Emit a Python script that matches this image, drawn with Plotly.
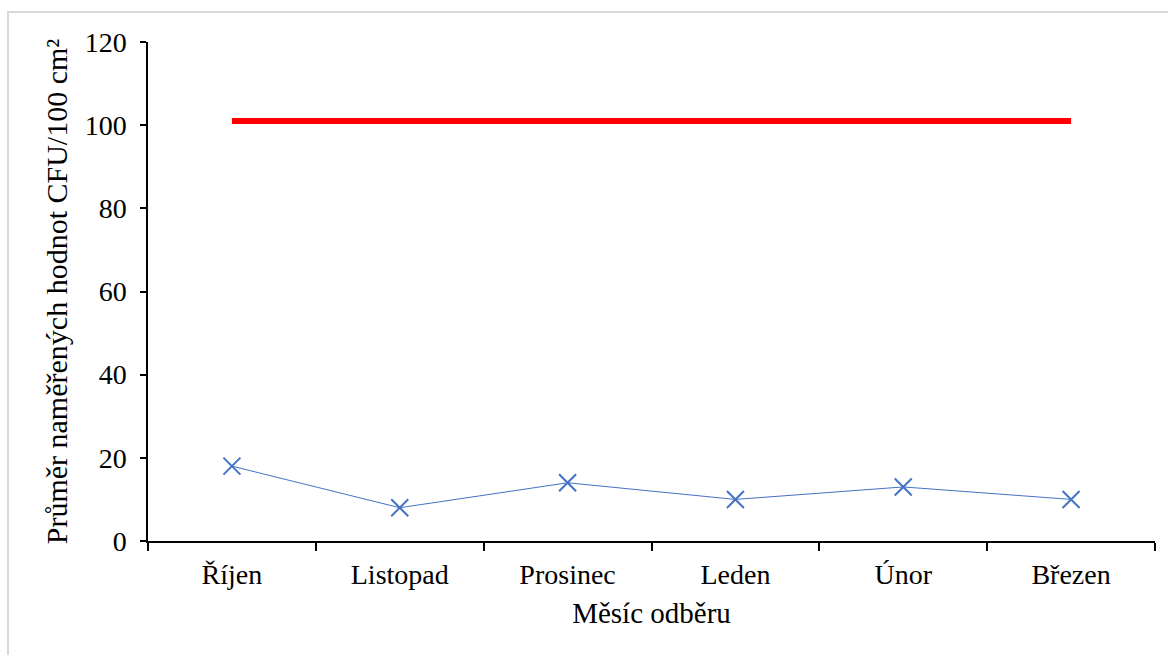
import plotly.graph_objects as go

# Monthly sampling results
months = ["Říjen", "Listopad", "Prosinec", "Leden", "Únor", "Březen"]
measured_cfu = [18, 8, 14, 10, 13, 10]
limit_cfu = [101, 101, 101, 101, 101, 101]

y_ticks = [0, 20, 40, 60, 80, 100, 120]

FONT = "Liberation Serif"
TICK_FS = 28
TITLE_FS = 29

# plot-area geometry (pixels) used to place the outer frame
W, H = 1168, 655
L, R, T, B = 148, 13, 42, 114
pw, ph = W - L - R, H - T - B

fig = go.Figure()

fig.add_trace(go.Scatter(
    x=months, y=limit_cfu, mode="lines",
    line=dict(color="#ff0000", width=6),
    showlegend=False, hoverinfo="skip",
))

fig.add_trace(go.Scatter(
    x=months, y=measured_cfu, mode="lines+markers",
    line=dict(color="#4472c4", width=1),
    marker=dict(symbol="x-thin", size=17, line=dict(color="#4472c4", width=2)),
    showlegend=False,
))

# light grey frame around the chart
fig.add_shape(
    type="rect", xref="paper", yref="paper",
    x0=(8 - L) / pw, x1=(W + 10 - L) / pw,
    y0=(T + ph - (H + 10)) / ph, y1=(T + ph - 12) / ph,
    line=dict(color="#d9d9d9", width=2), fillcolor="rgba(0,0,0,0)", layer="below",
)

fig.update_layout(
    width=W, height=H,
    margin=dict(l=L, r=R, t=T, b=B, pad=0),
    paper_bgcolor="white", plot_bgcolor="white",
    font=dict(family=FONT, size=TICK_FS, color="black"),
    xaxis=dict(
        type="category", range=[-0.5, 5.5],
        showline=True, linecolor="black", linewidth=1.5,
        ticks="outside", ticklen=8, tickwidth=1.5, tickcolor="black",
        tickson="boundaries", showgrid=False, zeroline=False,
        ticklabelstandoff=8,
        tickfont=dict(family=FONT, size=TICK_FS, color="black"),
        title=dict(text="Měsíc odběru", font=dict(family=FONT, size=TITLE_FS, color="black"), standoff=13),
    ),
    yaxis=dict(
        range=[0, 120], tickvals=y_ticks,
        showline=True, linecolor="black", linewidth=1.5,
        ticks="outside", ticklen=6, tickwidth=1.5, tickcolor="black",
        showgrid=False, zeroline=False,
        ticklabelstandoff=8,
        tickfont=dict(family=FONT, size=TICK_FS, color="black"),
        title=dict(text="Průměr naměřených hodnot CFU/100 cm²", font=dict(family=FONT, size=30, color="black"), standoff=8),
    ),
)

fig.write_html("out.html")
